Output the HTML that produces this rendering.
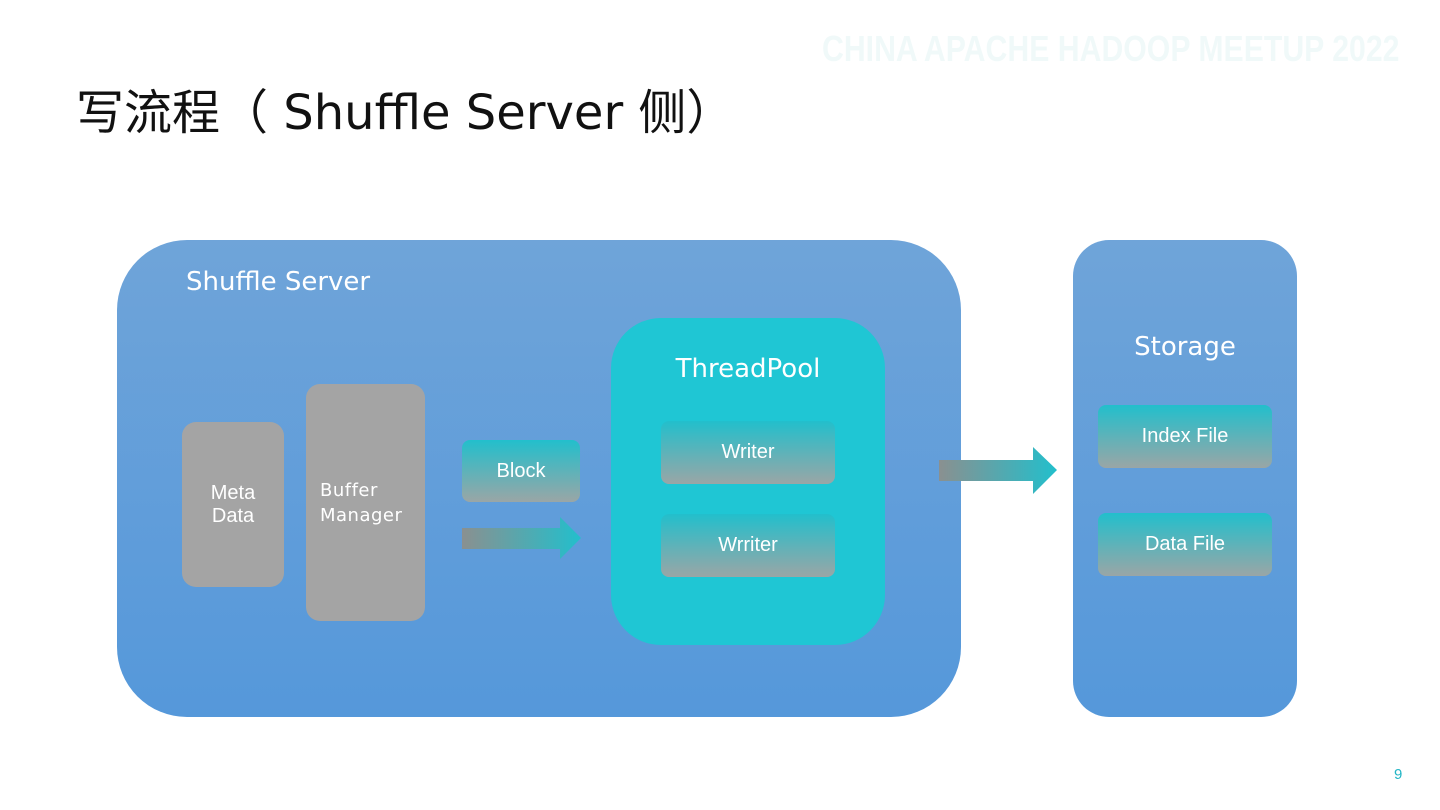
<!DOCTYPE html>
<html><head><meta charset="utf-8"><style>
body{margin:0;width:1440px;height:810px;background:#fff;position:relative;overflow:hidden;font-family:"DejaVu Sans","Liberation Sans",sans-serif}
.a{position:absolute;box-sizing:border-box}
.t{color:#fff;text-align:center;display:flex;align-items:center;justify-content:center}
.g{background:linear-gradient(#22bfcc,#9aa6a6);border-radius:8px;font-family:"Liberation Sans",sans-serif;font-size:20px;color:#fff}
</style></head><body>
<div class="a" style="left:822px;top:28px;font-family:'Liberation Sans',sans-serif;font-size:36px;font-weight:bold;color:#f0f9f9;white-space:nowrap;transform:scaleX(0.84);transform-origin:left">CHINA APACHE HADOOP MEETUP 2022</div>
<div class="a" style="left:76px;top:73px;font-size:48px;color:#111;font-family:'DejaVu Sans','Noto Sans CJK SC',sans-serif;white-space:nowrap">写流程（ Shuffle Server 侧）</div>
<div class="a" style="left:117px;top:240px;width:844px;height:477px;border-radius:70px;background:linear-gradient(#6fa4d9,#5598da)"></div>
<div class="a" style="left:186px;top:267px;font-size:26px;color:#fff">Shuffle Server</div>
<div class="a t" style="left:182px;top:422px;width:102px;height:165px;border-radius:14px;background:#a4a4a4;font-size:20px;font-family:'Liberation Sans',sans-serif">Meta<br>Data</div>
<div class="a" style="left:306px;top:384px;width:119px;height:237px;border-radius:14px;background:#a4a4a4;color:#fff;font-size:18px;padding:94px 0 0 14px;line-height:25px;letter-spacing:0.5px">Buffer<br>Manager</div>
<div class="a t g" style="left:462px;top:440px;width:118px;height:62px">Block</div>
<svg class="a" style="left:462px;top:515px" width="120" height="46"><defs><linearGradient id="ar"><stop offset="0" stop-color="#8a9090"/><stop offset="1" stop-color="#22bfcc"/></linearGradient></defs><polygon points="0,13 98,13 98,2 119,23 98,44 98,34 0,34" fill="url(#ar)"/></svg>
<div class="a" style="left:611px;top:318px;width:274px;height:327px;border-radius:50px;background:#1fc6d4"></div>
<div class="a" style="left:611px;top:354px;width:274px;text-align:center;font-size:26px;color:#fff">ThreadPool</div>
<div class="a t g" style="left:661px;top:421px;width:174px;height:63px">Writer</div>
<div class="a t g" style="left:661px;top:514px;width:174px;height:63px">Wrriter</div>
<svg class="a" style="left:939px;top:446px" width="120" height="50"><defs><linearGradient id="ar2"><stop offset="0" stop-color="#8a9090"/><stop offset="1" stop-color="#22bfcc"/></linearGradient></defs><polygon points="0,14 94,14 94,1 118,24 94,48 94,35 0,35" fill="url(#ar2)"/></svg>
<div class="a" style="left:1073px;top:240px;width:224px;height:477px;border-radius:36px;background:linear-gradient(#6fa4d9,#5598da)"></div>
<div class="a" style="left:1073px;top:332px;width:224px;text-align:center;font-size:26px;color:#fff">Storage</div>
<div class="a t g" style="left:1098px;top:405px;width:174px;height:63px">Index File</div>
<div class="a t g" style="left:1098px;top:513px;width:174px;height:63px">Data File</div>
<div class="a" style="left:1394px;top:766px;font-size:15px;color:#22b5c5;font-family:'Liberation Sans',sans-serif">9</div>
</body></html>
